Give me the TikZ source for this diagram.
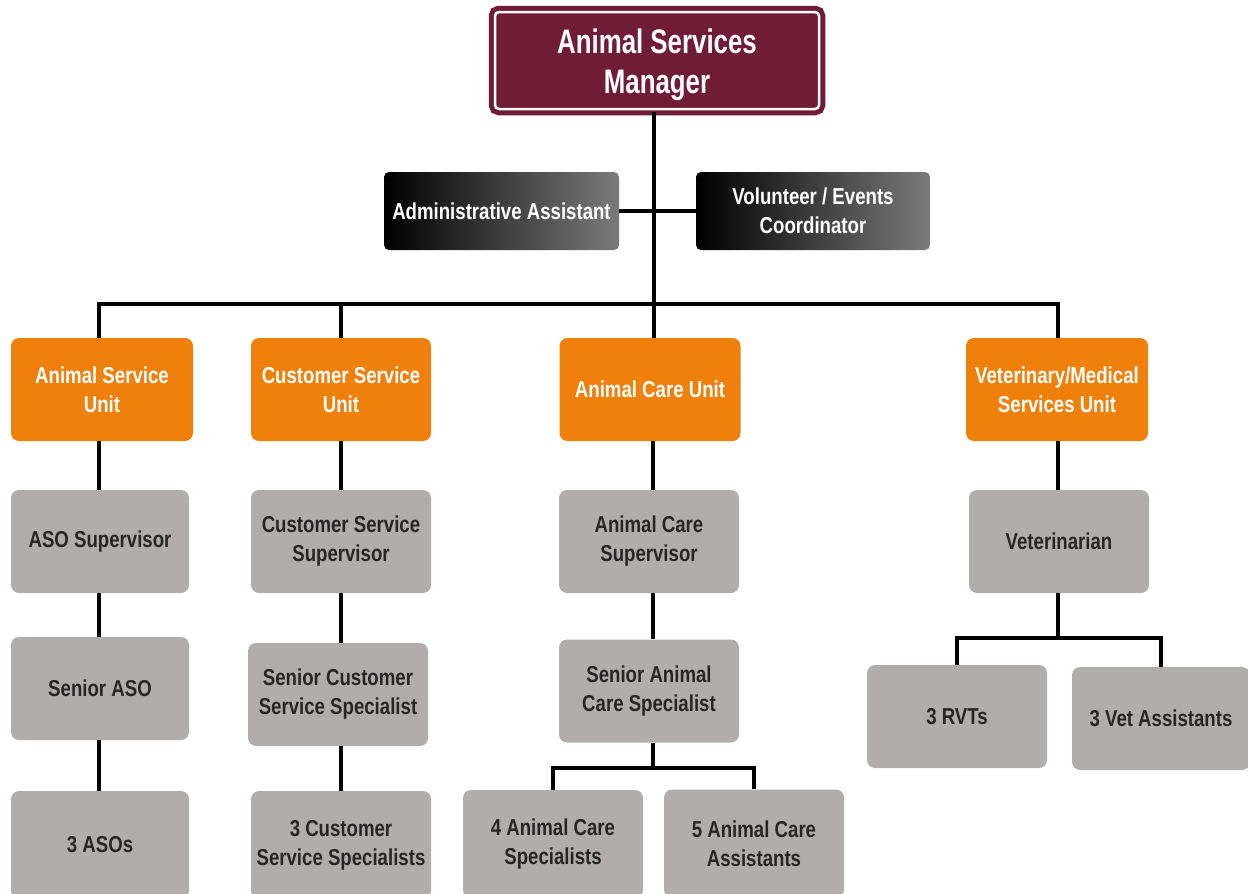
\documentclass[tikz,border=0pt]{standalone}
\usepackage{fontspec}
\setmainfont{Liberation Sans}[FakeStretch=0.81]
\newfontfamily\headfont{Liberation Sans}[FakeStretch=0.76]
\usetikzlibrary{calc}
\definecolor{maroon}{HTML}{701C36}
\definecolor{unitorange}{HTML}{EF800B}
\definecolor{staffgray}{HTML}{B2ADAD}
\definecolor{staffink}{HTML}{262626}
\tikzset{
  box/.style={rounded corners=8pt, inner sep=0pt, align=center,
    minimum width=180pt, minimum height=103pt,
    font=\fontsize{23}{29}\selectfont\bfseries},
  unitbox/.style={box, fill=unitorange, text=white},
  staffbox/.style={box, fill=staffgray, text=staffink},
  darkbox/.style={box, minimum width=235pt, minimum height=78pt,
    left color=black, right color=black!52, text=white, rounded corners=5pt},
  mgrbox/.style={inner sep=0pt, align=center, rounded corners=4pt,
    minimum width=324pt, minimum height=97pt, fill=maroon,
    draw=maroon, line width=5pt, double=white, double distance=2.5pt,
    text=white, font=\headfont\fontsize{34}{40}\selectfont\bfseries},
  link/.style={draw=black, line width=4pt}
}
\begin{document}
\begin{tikzpicture}[x=1pt, y=-1pt]
\useasboundingbox (0,0) rectangle (1248,894);

% top of the chart
\node[mgrbox] (mgr) at (657,60.5) {\rule{0pt}{33pt}Animal Services\\Manager};
\node[darkbox] (adm) at (501.5,211) {Administrative Assistant};
\node[darkbox, minimum width=234pt] (vol) at (813,211) {Volunteer / Events\\Coordinator};

% units
\node[unitbox, minimum width=182pt] (asu) at (102,389.5) {Animal Service\\Unit};
\node[unitbox] (csu) at (341,389.5) {Customer Service\\Unit};
\node[unitbox, minimum width=181pt] (acu) at (650,389.5) {Animal Care Unit};
\node[unitbox, minimum width=182pt] (vms) at (1057,389.5) {Veterinary/Medical\\Services Unit};

% animal service column
\node[staffbox, minimum width=178pt] (asos) at (100,541.5) {ASO Supervisor};
\node[staffbox, minimum width=178pt] (sraso) at (100,688.5) {Senior ASO};
\node[staffbox, minimum width=178pt, minimum height=108pt] (asos3) at (100,845) {3 ASOs};

% customer service column
\node[staffbox] (css) at (341,541.5) {Customer Service\\Supervisor};
\node[staffbox] (srcss) at (338,694.5) {Senior Customer\\Service Specialist};
\node[staffbox, minimum height=108pt] (css3) at (341,845) {3 Customer\\Service Specialists};

% animal care column
\node[staffbox] (acs) at (649,541.5) {Animal Care\\Supervisor};
\node[staffbox] (sracs) at (649,691) {Senior Animal\\Care Specialist};
\node[staffbox, minimum height=108pt] (acs4) at (553,844) {4 Animal Care\\Specialists};
\node[staffbox, minimum height=108pt] (aca5) at (754,843.5) {5 Animal Care\\Assistants};

% veterinary column
\node[staffbox] (vet) at (1059,541.5) {Veterinarian};
\node[staffbox] (rvt) at (957,716.5) {3 RVTs};
\node[staffbox, minimum width=178pt] (vas) at (1161,718.5) {3 Vet Assistants};

% junction points
\coordinate (trunk) at (654,304);
\coordinate (acsplit) at (653,768);
\coordinate (vetsplit) at (1058,638);

% connectors
\path[link] (mgr.south -| trunk) -- (trunk);
\path[link] (adm.east) -- (vol.west);
\path[link] (asu.north -| 99,0) |- (trunk) -| (vms.north -| 1058,0);
\path[link] (csu.north) -- (csu.north |- trunk);
\path[link] (acu.north -| trunk) -- (trunk);

\path[link] (asu.south -| 99,0) -- (asos.north -| 99,0);
\path[link] (asos.south -| 99,0) -- (sraso.north -| 99,0);
\path[link] (sraso.south -| 99,0) -- (asos3.north -| 99,0);

\path[link] (csu.south) -- (css.north);
\path[link] (css.south) -- (srcss.north -| css.south);
\path[link] (srcss.south -| css3.north) -- (css3.north);

\path[link] (acu.south -| acsplit) -- (acs.north -| acsplit);
\path[link] (acs.south -| acsplit) -- (sracs.north -| acsplit);
\path[link] (sracs.south -| acsplit) -- (acsplit);
\path[link] (acs4.north) |- (acsplit) -| (aca5.north);

\path[link] (vms.south -| vetsplit) -- (vet.north -| vetsplit);
\path[link] (vet.south -| vetsplit) -- (vetsplit);
\path[link] (rvt.north) |- (vetsplit) -| (vas.north);
\end{tikzpicture}
\end{document}
